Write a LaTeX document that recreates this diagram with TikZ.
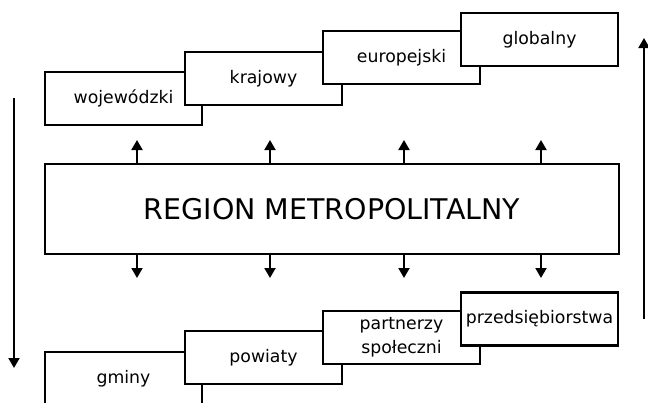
\documentclass[tikz,border=0pt]{standalone}
\usepackage{fontspec}
\setmainfont{DejaVu Sans}
\usetikzlibrary{arrows.meta}
\begin{document}
\begin{tikzpicture}[x=1pt, y=-1pt,
    pudelko/.style={draw, line width=2.2pt, fill=white, minimum width=157pt, minimum height=53pt, inner sep=1pt, align=center, font=\fontsize{17.3}{24}\selectfont},
    strzalka/.style={line width=2pt, -{Triangle[length=10pt, width=11pt]}}]
    \clip (0,0) rectangle (648,402); % ramka obrazka
    % poziomy wyzsze
    \node[pudelko] (woj) at (123.5,98.5) {wojewódzki}; % pierwszy schodek
    \node[pudelko] (kraj) at (263.5,78.5) {krajowy}; % drugi schodek
    \node[pudelko] (euro) at (401.5,57.5) {europejski}; % trzeci schodek
    \node[pudelko] (glob) at (539.5,39.5) {globalny}; % czwarty schodek
    % region
    \node[draw, line width=2.2pt, minimum width=574pt, minimum height=90pt, font=\fontsize{28.5}{34}\selectfont] (region) at (332,209) {REGION METROPOLITALNY};
    % poziomy nizsze
    \node[pudelko] (gmi) at (123.5,378.5) {gminy}; % pierwszy schodek
    \node[pudelko] (pow) at (263.5,357.5) {powiaty}; % drugi schodek
    \node[pudelko] (part) at (401.5,337.5) {partnerzy\\społeczni}; % trzeci schodek
    \node[pudelko] (firm) at (539.5,319) {przedsiębiorstwa}; % czwarty schodek
    % male strzalki
    \foreach \x in {137,270,404,541} {
        \coordinate (g\x) at (\x,140); % koniec w gore
        \coordinate (d\x) at (\x,278); % koniec w dol
        \draw[strzalka] (region.north -| g\x) -- (g\x);
        \draw[strzalka] (region.south -| d\x) -- (d\x);
    }
    % dlugie strzalki
    \coordinate (lewa1) at (14,98);
    \coordinate (lewa2) at (14,368);
    \coordinate (prawa1) at (644,319);
    \coordinate (prawa2) at (644,38);
    \draw[strzalka] (lewa1) -- (lewa2); % z gory na dol
    \draw[strzalka] (prawa1) -- (prawa2); % z dolu do gory
\end{tikzpicture}
\end{document}
